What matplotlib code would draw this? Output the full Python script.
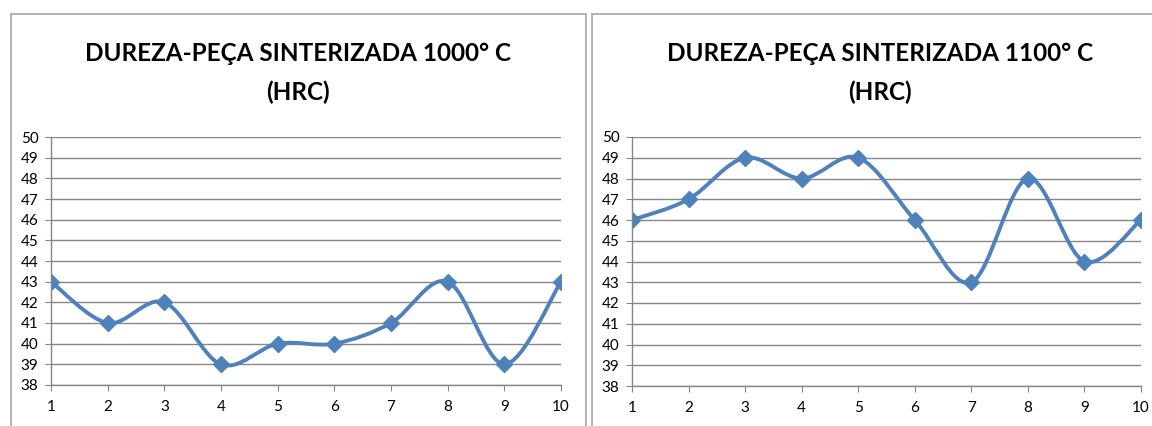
import matplotlib
matplotlib.use('Agg')
import matplotlib.pyplot as plt
import numpy as np
from matplotlib.path import Path
from matplotlib.patches import PathPatch, Rectangle

plt.rcParams['font.family'] = ['Lato', 'DejaVu Sans']

pecas = [1, 2, 3, 4, 5, 6, 7, 8, 9, 10]
dureza_1000 = [43, 41, 42, 39, 40, 40, 41, 43, 39, 43]
dureza_1100 = [46, 47, 49, 48, 49, 46, 43, 48, 44, 46]
titulos = ['DUREZA-PEÇA SINTERIZADA 1000° C\n(HRC)',
           'DUREZA-PEÇA SINTERIZADA 1100° C\n(HRC)']

azul = '#4F81BD'
cinza = '#868686'


def curva_suave(x, y):
    # bezier parecido com a suavizacao do Excel
    x = np.asarray(x, float)
    y = np.asarray(y, float)
    px = np.concatenate([[x[0]], x, [x[-1]]])
    py = np.concatenate([[y[0]], y, [y[-1]]])
    verts = [(x[0], y[0])]
    codes = [Path.MOVETO]
    for i in range(1, len(px) - 2):
        c1 = (px[i] + (px[i + 1] - px[i - 1]) / 6, py[i] + (py[i + 1] - py[i - 1]) / 6)
        c2 = (px[i + 1] - (px[i + 2] - px[i]) / 6, py[i + 1] - (py[i + 2] - py[i]) / 6)
        verts += [c1, c2, (px[i + 1], py[i + 1])]
        codes += [Path.CURVE4] * 3
    return Path(verts, codes)


fig = plt.figure(figsize=(11.52, 4.26), dpi=100)

W, H = 1152, 426
# molduras dos graficos
for x0, x1 in [(11, 586), (592, 1170)]:
    fig.add_artist(Rectangle((x0 / W, -0.05), (x1 - x0) / W, (H - 14) / H + 0.05,
                             transform=fig.transFigure, fill=False,
                             edgecolor='#A6A6A6', lw=1.2))

posicoes = [[51 / W, 41 / H, 510 / W, 248 / H],
            [632 / W, 40 / H, 509 / W, 249 / H]]
centros = [298 / W, 880 / W]

for pos, dados, titulo, cx in zip(posicoes, [dureza_1000, dureza_1100], titulos, centros):
    ax = fig.add_axes(pos)
    ax.add_patch(PathPatch(curva_suave(pecas, dados), fill=False,
                           edgecolor=azul, lw=2.8, capstyle='round', joinstyle='round'))
    ax.plot(pecas, dados, linestyle='none', marker='D', ms=8, color=azul)
    ax.set_xlim(1, 10)
    ax.set_ylim(38, 50)
    ax.set_xticks(pecas)
    ax.set_yticks(range(38, 51))
    ax.grid(axis='y', color=cinza, lw=1.0)
    ax.set_axisbelow(True)
    for s in ['top', 'right']:
        ax.spines[s].set_visible(False)
    for s in ['left', 'bottom']:
        ax.spines[s].set_color(cinza)
        ax.spines[s].set_linewidth(1.0)
    ax.tick_params(axis='y', length=4, color=cinza, pad=5, labelsize=11)
    ax.tick_params(axis='x', length=4, color=cinza, pad=7, labelsize=11)
    ax.patch.set_visible(False)
    fig.text(cx, (H - 73) / H, titulo, ha='center', va='center', fontsize=17.5,
             fontweight='bold', linespacing=1.8)

fig.savefig('out.png', dpi=100)
